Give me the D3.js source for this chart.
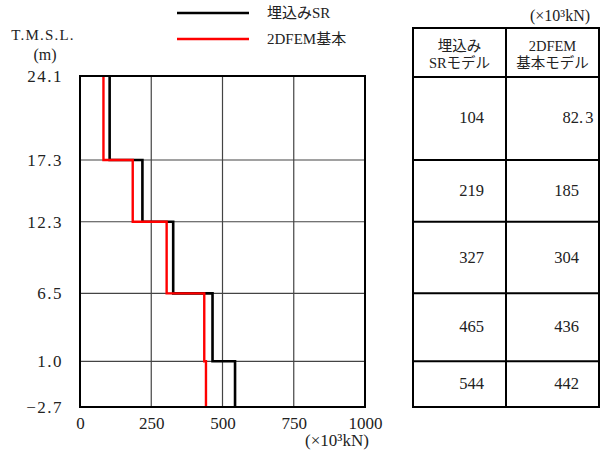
<!DOCTYPE html>
<html>
<head>
<meta charset="utf-8">
<script src="https://cdn.jsdelivr.net/npm/d3@7"></script>
<style>
  html, body { margin: 0; padding: 0; background: #fff; }
  svg { display: block; }
  text { font-family: "Liberation Serif", "Noto Sans CJK JP", serif; fill: #222; }
  .num { font-family: "Liberation Serif", serif; }
</style>
</head>
<body>
<svg id="chart" width="600" height="456"></svg>
<script>
// ---- data ----
const levels = [24.1, 17.3, 12.3, 6.5, 1.0, -2.7];          // T.M.S.L. (m), top to bottom
const levelLabels = ["24.1", "17.3", "12.3", "6.5", "1.0", "−2.7"];
const seriesNames = ["埋込みSR", "2DFEM基本"];
const srValues = [104, 219, 327, 465, 544];                 // ×10^3 kN per story
const femValues = [82.3, 185, 304, 436, 442];
const xTicks = [0, 250, 500, 750, 1000];
const tableHeaders = [["埋込み", "SRモデル"], ["2DFEM", "基本モデル"]];
const unitLabel = "(×10³kN)";

// ---- layout ----
const svg = d3.select("#chart");
const x = d3.scaleLinear().domain([0, 1000]).range([80, 365]);
const y = d3.scaleLinear().domain([-2.7, 24.1]).range([407, 76]);

// grid
const g = svg.append("g");
g.selectAll("line.vg").data(xTicks.slice(1, -1)).join("line")
  .attr("x1", d => x(d)).attr("x2", d => x(d))
  .attr("y1", y(24.1)).attr("y2", y(-2.7))
  .attr("stroke", "#444").attr("stroke-width", 1.2);
g.selectAll("line.hg").data(levels.slice(1, -1)).join("line")
  .attr("x1", x(0)).attr("x2", x(1000))
  .attr("y1", d => y(d)).attr("y2", d => y(d))
  .attr("stroke", "#444").attr("stroke-width", 1.2);

// step lines
function stepPoints(vals) {
  const pts = [];
  vals.forEach((v, i) => {
    pts.push([v, levels[i]]);
    pts.push([v, levels[i + 1]]);
  });
  return pts;
}
const line = d3.line().x(d => x(d[0])).y(d => y(d[1]));
g.append("path").datum(stepPoints(srValues))
  .attr("d", line).attr("fill", "none").attr("stroke", "#000").attr("stroke-width", 2.6);
g.append("path").datum(stepPoints(femValues))
  .attr("d", line).attr("fill", "none").attr("stroke", "#ff0000").attr("stroke-width", 2.4);

// frame
g.append("rect").attr("x", x(0)).attr("y", y(24.1))
  .attr("width", x(1000) - x(0)).attr("height", y(-2.7) - y(24.1))
  .attr("fill", "none").attr("stroke", "#000").attr("stroke-width", 2);

// axes (labels only)
const xAxis = d3.axisBottom(x).tickValues(xTicks).tickSize(0).tickPadding(10)
  .tickFormat(d3.format("d"));
const xa = svg.append("g").attr("transform", `translate(0,${y(-2.7)})`).call(xAxis);
xa.attr("font-family", null).attr("font-size", null);
xa.select(".domain").remove();
xa.selectAll("text").attr("class", "num").attr("font-size", 17).attr("fill", "#222");

const yAxis = d3.axisLeft(y).tickValues(levels).tickSize(0).tickPadding(17)
  .tickFormat((d, i) => levelLabels[i]);
const ya = svg.append("g").attr("transform", `translate(${x(0)},0)`).call(yAxis);
ya.attr("font-family", null).attr("font-size", null);
ya.select(".domain").remove();
ya.selectAll("text").attr("class", "num").attr("font-size", 17)
  .attr("letter-spacing", 1.5).attr("fill", "#222");

svg.append("text").attr("class", "num").attr("x", 43).attr("y", 40).attr("text-anchor", "middle")
  .attr("font-size", 15).attr("letter-spacing", 1.2).text("T.M.S.L.");
svg.append("text").attr("class", "num").attr("x", 45).attr("y", 60).attr("text-anchor", "middle")
  .attr("font-size", 16).text("(m)");
svg.append("text").attr("x", 337).attr("y", 446).attr("text-anchor", "middle")
  .attr("font-size", 17).text(unitLabel);

// legend
const legColors = ["#000", "#ff0000"];
seriesNames.forEach((name, i) => {
  const ly = 13 + i * 26;
  svg.append("line").attr("x1", 177).attr("x2", 249).attr("y1", ly).attr("y2", ly)
    .attr("stroke", legColors[i]).attr("stroke-width", 2.5);
  svg.append("text").attr("x", 267).attr("y", ly + 5).attr("font-size", 15).text(name);
});

// table
const colX = [413, 506, 599];
const t = svg.append("g");
svg.append("text").attr("x", 560).attr("y", 21).attr("text-anchor", "middle")
  .attr("font-size", 16).text(unitLabel);
// header text
tableHeaders.forEach((lines, c) => {
  const cx = (colX[c] + colX[c + 1]) / 2;
  lines.forEach((s, k) => {
    t.append("text").attr("x", cx).attr("y", 51 + k * 17).attr("text-anchor", "middle")
      .attr("font-size", 14.5).text(s);
  });
});
// values
const valueRight = [484, 579];
[srValues, femValues].forEach((vals, c) => {
  vals.forEach((v, i) => {
    const cy = (y(levels[i]) + y(levels[i + 1])) / 2;
    const s = String(v);
    const parts = s.split(".");
    const txt = t.append("text").attr("class", "num").attr("y", cy + 5).attr("font-size", 16.5);
    const ip = txt.append("tspan").text(parts[0]);
    if (parts.length > 1) txt.append("tspan").text("." + parts[1]).attr("letter-spacing", 2);
    const w = ip.node().getComputedTextLength();
    txt.attr("x", valueRight[c] - w);
  });
});
// table lines
const tTop = 28, tHead = 77;
const rowYs = [tHead].concat(levels.slice(1).map(d => y(d)));
t.selectAll("line.row").data(rowYs.slice(0, -1)).join("line")
  .attr("x1", colX[0]).attr("x2", colX[2]).attr("y1", d => d).attr("y2", d => d)
  .attr("stroke", "#000").attr("stroke-width", 2);
t.append("line").attr("x1", colX[1]).attr("x2", colX[1]).attr("y1", tTop).attr("y2", y(-2.7))
  .attr("stroke", "#000").attr("stroke-width", 2);
t.append("rect").attr("x", colX[0]).attr("y", tTop)
  .attr("width", colX[2] - colX[0]).attr("height", y(-2.7) - tTop)
  .attr("fill", "none").attr("stroke", "#000").attr("stroke-width", 2);
</script>
</body>
</html>
